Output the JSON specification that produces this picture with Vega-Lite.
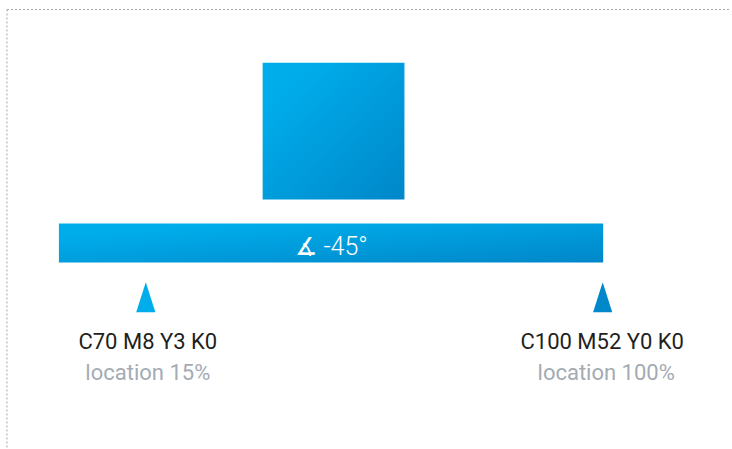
{
  "$schema": "https://vega.github.io/schema/vega-lite/v6.json",
  "width": 732,
  "height": 449,
  "autosize": {"type": "fit", "contains": "padding"},
  "padding": 0,
  "background": "#ffffff",
  "config": {"view": {"stroke": null}},
  "datasets": {
    "border": [
      {"x": 7, "x2": 732, "y": 9.5, "y2": 9.5},
      {"x": 7, "x2": 7, "y": 9.5, "y2": 449}
    ],
    "square": [{"x": 263, "x2": 405, "y": 63, "y2": 200}],
    "bar": [{"x": 59, "x2": 604, "y": 224, "y2": 263}],
    "angle": [{"x": 332, "y": 256, "label": "∡ -45°"}],
    "stops": [
      {"x": 146, "y": 298, "stop": "C70 M8 Y3 K0"},
      {"x": 603.5, "y": 298, "stop": "C100 M52 Y0 K0"}
    ],
    "labels": [
      {"x": 148, "y": 350, "label": "C70 M8 Y3 K0", "kind": "colour"},
      {"x": 148, "y": 381, "label": "location 15%", "kind": "location"},
      {"x": 603, "y": 350, "label": "C100 M52 Y0 K0", "kind": "colour"},
      {"x": 607, "y": 381, "label": "location 100%", "kind": "location"}
    ]
  },
  "encoding": {
    "x": {"field": "x", "type": "quantitative", "scale": {"domain": [0, 732], "nice": false, "zero": false}, "axis": null},
    "y": {"field": "y", "type": "quantitative", "scale": {"domain": [0, 449], "reverse": true, "nice": false, "zero": false}, "axis": null}
  },
  "layer": [
    {
      "data": {"name": "border"},
      "mark": {"type": "rule", "stroke": "#a6a6a6", "strokeWidth": 1, "strokeDash": [2, 2]},
      "encoding": {
        "x2": {"field": "x2"},
        "y2": {"field": "y2"}
      }
    },
    {
      "data": {"name": "square"},
      "mark": {
        "type": "rect",
        "fill": {
          "gradient": "linear",
          "x1": 0, "y1": 0, "x2": 1, "y2": 1,
          "stops": [
            {"offset": 0.15, "color": "#00adeb"},
            {"offset": 1, "color": "#0087c9"}
          ]
        }
      },
      "encoding": {
        "x2": {"field": "x2"},
        "y2": {"field": "y2"}
      }
    },
    {
      "data": {"name": "bar"},
      "mark": {
        "type": "rect",
        "fill": {
          "gradient": "linear",
          "x1": 0, "y1": 0, "x2": 1, "y2": 1,
          "stops": [
            {"offset": 0.15, "color": "#00adeb"},
            {"offset": 1, "color": "#0087c9"}
          ]
        }
      },
      "encoding": {
        "x2": {"field": "x2"},
        "y2": {"field": "y2"}
      }
    },
    {
      "data": {"name": "angle"},
      "mark": {"type": "text", "color": "#ffffff", "font": "Roboto", "fontSize": 25, "fontWeight": 300, "align": "center", "baseline": "alphabetic"},
      "encoding": {"text": {"field": "label"}}
    },
    {
      "data": {"name": "stops"},
      "mark": {"type": "point", "filled": true, "opacity": 1, "shape": "M0,-1L0.64,1L-0.64,1Z", "size": 900},
      "encoding": {
        "color": {"field": "stop", "type": "nominal", "scale": {"domain": ["C70 M8 Y3 K0", "C100 M52 Y0 K0"], "range": ["#00adeb", "#0088ca"]}, "legend": null}
      }
    },
    {
      "data": {"name": "labels"},
      "mark": {"type": "text", "font": "Roboto", "fontSize": 22, "fontWeight": 400, "align": "center", "baseline": "alphabetic"},
      "encoding": {
        "text": {"field": "label"},
        "color": {"field": "kind", "type": "nominal", "scale": {"domain": ["colour", "location"], "range": ["#231f20", "#a3abb3"]}, "legend": null}
      }
    }
  ],
  "resolve": {"scale": {"color": "independent"}}
}
